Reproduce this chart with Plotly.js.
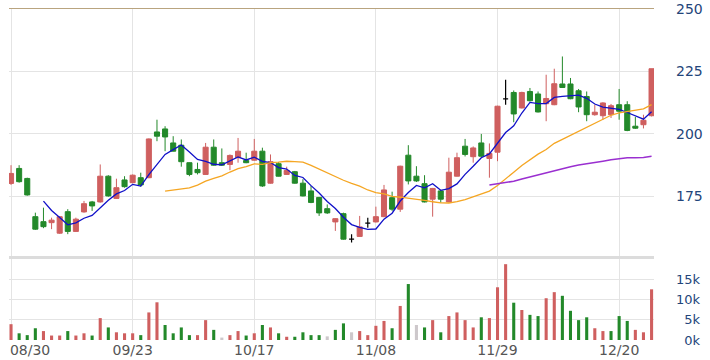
<!DOCTYPE html>
<html>
<head>
<meta charset="utf-8">
<script src="https://cdn.plot.ly/plotly-3.0.1.min.js"></script>
<style>html,body{margin:0;padding:0;background:#fff;}#chart{width:710px;height:360px;}</style>
</head>
<body>
<div id="chart"></div>
<script>
// ---- data ----
var openP = [180.2,186.2,182.2,166.9,164.9,164.5,160.3,168.9,161.0,168.8,
  172.8,172.8,183.1,174.2,181.6,180.5,182.5,182.5,200.8,202.0,
  196.4,195.5,188.5,185.8,183.8,194.7,188.5,187.8,190.5,189.4,
  189.5,193.1,180.3,188.1,183.8,184.9,180.3,177.2,174.6,170.1,
  164.8,168.1,157.9,159.0,164.3,164.8,166.9,174.5,169.9,191.5,
  183.1,180.1,173.9,177.2,172.8,183.1,195.1,190.9,196.4,190.2,
  192.7,214.0,216.6,210.4,217.0,216.0,212.1,211.7,220.0,220.0,
  217.3,215.0,207.7,207.3,207.7,211.7,211.7,203.1,203.7,207.3];
var highP = [187.5,187.5,182.5,168.5,170.5,166.5,167.1,169.9,166.5,173.2,
  173.2,187.8,183.5,182.1,183.1,183.8,184.5,198.2,205.7,203.1,
  199.1,197.8,188.6,188.5,196.4,197.8,194.2,191.8,198.4,192.5,
  198.0,194.5,191.8,188.8,186.9,185.2,181.9,179.2,174.8,171.8,
  166.3,168.5,159.9,167.2,166.5,170.9,179.6,176.9,187.3,195.5,
  187.1,183.5,178.4,177.6,190.5,192.5,198.0,195.0,200.0,196.2,
  211.3,221.7,217.4,216.9,218.4,217.0,223.7,226.1,231.0,222.4,
  218.0,217.0,211.7,212.7,212.0,218.0,213.1,206.8,207.7,226.1];
var lowP = [179.6,180.5,175.3,161.6,162.3,161.9,160.0,159.9,160.8,168.5,
  169.2,172.5,174.9,174.0,178.5,180.3,178.9,182.3,197.1,193.1,
  193.0,186.9,183.1,183.8,183.6,187.3,187.2,185.5,188.5,188.3,
  189.3,178.8,180.1,183.0,183.6,180.1,175.0,172.3,167.2,168.0,
  161.2,157.7,156.6,158.8,162.5,164.6,166.7,169.2,168.8,179.8,
  180.8,172.6,166.9,172.5,172.6,183.0,191.0,188.5,190.5,182.5,
  189.1,211.7,204.7,210.2,213.0,208.6,205.1,211.5,218.4,213.9,
  208.7,205.1,207.3,205.7,206.4,205.7,201.1,202.0,202.2,207.0];
var closeP = [184.2,180.9,175.6,161.9,162.9,165.5,166.9,161.0,165.9,172.1,
  171.2,183.1,175.2,178.5,178.9,183.5,179.6,198.0,199.1,198.8,
  193.1,188.9,183.8,184.5,194.7,187.5,187.5,191.4,193.1,188.5,
  193.1,179.2,188.9,183.1,185.4,180.3,175.2,172.6,168.4,168.4,
  166.1,157.9,157.9,162.8,164.3,166.9,177.6,169.9,187.1,181.2,
  181.2,172.8,178.2,173.9,184.7,190.5,191.8,194.4,191.1,192.2,
  211.1,214.0,208.0,216.6,213.3,208.8,214.2,220.1,218.6,214.1,
  210.8,207.7,208.7,212.4,211.3,209.1,201.4,202.3,205.5,226.1];
var volumeK = [3.9,1.65,1.2,2.9,2.2,1.1,1.1,2.2,1.1,1.65,
  1.1,5.4,3.1,1.9,1.65,1.65,1.2,6.8,9.3,3.7,
  1.65,3.1,1.2,1.2,4.9,2.5,0.6,1.2,2.2,1.1,
  1.65,3.7,3.1,1.65,0.8,0.8,1.9,1.2,1.2,0.9,
  2.5,4.1,1.9,2.2,1.2,3.5,4.7,2.9,8.4,13.8,
  3.7,3.1,4.9,1.9,5.9,6.8,4.9,3.1,5.6,5.4,
  13.0,18.7,9.2,7.4,6.2,5.9,10.3,11.8,10.9,7.2,
  4.9,5.6,2.9,2.2,2.2,5.9,4.7,2.5,1.9,12.5];
var dateLabels = ['08/30','09/23','10/17','11/08','11/29','12/20'];
var dateLabelIdx = [0,15,30,45,60,75];
var priceTicks = [150,175,200,225,250];
var volTicks = [0,5000,10000,15000,20000];
var volTickText = ['\u20070k','\u20075k','10k','15k',''];
var maPeriods = [5,20,60];

// ---- derived ----
var N = closeP.length;
var idx = []; for (var i=0;i<N;i++) idx.push(i);
function movingAvg(p){
  var out=[]; for (var i=0;i<N;i++){ if(i<p-1){out.push(null);continue;}
    var s=0; for(var j=i-p+1;j<=i;j++) s+=closeP[j]; out.push(s/p);} return out;
}
var RED='#cf5f5f', GREEN='#23892a', GRAY='#cdc8cb';
var volColors = closeP.map(function(c,i){
  var ref = i===0 ? openP[0] : closeP[i-1];
  return c>ref ? RED : (c<ref ? GREEN : GRAY);
});
var volume = volumeK.map(function(v){return v*1000;});
var main={x:[],o:[],h:[],l:[],c:[]}, doji={x:[],o:[],h:[],l:[],c:[]};
for (var i=0;i<N;i++){
  var t = openP[i]===closeP[i] ? doji : main;
  t.x.push(i); t.o.push(openP[i]); t.h.push(highP[i]); t.l.push(lowP[i]); t.c.push(closeP[i]);
}
var xr=[-0.25,79.3];
var labelPos = dateLabelIdx.slice(); labelPos[0] = 2.35;

var traces = [
  {type:'candlestick', x:main.x, open:main.o, high:main.h, low:main.l, close:main.c,
   xaxis:'x', yaxis:'y', hoverinfo:'skip', whiskerwidth:0,
   increasing:{line:{color:RED,width:1}, fillcolor:RED},
   decreasing:{line:{color:GREEN,width:1}, fillcolor:GREEN}},
  {type:'candlestick', x:doji.x, open:doji.o, high:doji.h, low:doji.l, close:doji.c,
   xaxis:'x', yaxis:'y', hoverinfo:'skip', whiskerwidth:0,
   increasing:{line:{color:'#000',width:1.2}, fillcolor:'#000'},
   decreasing:{line:{color:'#000',width:1.2}, fillcolor:'#000'}},
  {type:'scatter', mode:'lines', x:idx, y:movingAvg(maPeriods[0]), xaxis:'x', yaxis:'y',
   line:{color:'#1010c8', width:1.3}, hoverinfo:'skip'},
  {type:'scatter', mode:'lines', x:idx, y:movingAvg(maPeriods[1]), xaxis:'x', yaxis:'y',
   line:{color:'#f5a623', width:1.3}, hoverinfo:'skip'},
  {type:'scatter', mode:'lines', x:idx, y:movingAvg(maPeriods[2]), xaxis:'x', yaxis:'y',
   line:{color:'#9a2fd0', width:1.5}, hoverinfo:'skip'},
  {type:'bar', x:idx, y:volume, xaxis:'x2', yaxis:'y2', width:0.38,
   marker:{color:volColors, line:{width:0}}, hoverinfo:'skip'},
  {type:'scatter', mode:'none', x:idx, y:volume, xaxis:'x3', yaxis:'y2', hoverinfo:'skip'}
];

var gridC='#e4e4e4';
var layout = {
  width:710, height:360, margin:{l:9,r:56,t:9,b:20},
  paper_bgcolor:'#fff', plot_bgcolor:'#fff', showlegend:false,
  boxgap:0.2, boxgroupgap:0.22,
  font:{family:'DejaVu Sans', size:13, color:'#555'},
  xaxis:{domain:[0,1], range:xr, anchor:'y', side:'top', showline:true, linecolor:'#b9a47f', linewidth:1.5,
    tickvals:dateLabelIdx, showticklabels:false, ticks:'', showgrid:true, gridcolor:gridC, zeroline:false,
    rangeslider:{visible:false}, fixedrange:true},
  yaxis:{domain:[0.245,1], range:[150,250], anchor:'x', side:'right', tickvals:priceTicks,
    ticktext:priceTicks.map(function(v){return v===150?'':String(v);}),
    showgrid:true, gridcolor:gridC, zeroline:false, showline:false, ticks:'',
    ticklabelstandoff:21, tickfont:{family:'DejaVu Sans', size:14, color:'#23457a'}, fixedrange:true},
  xaxis2:{domain:[0,1], range:xr, anchor:'y2', side:'top', tickvals:dateLabelIdx, showticklabels:false, ticks:'',
    showgrid:true, gridcolor:gridC, zeroline:false, showline:true, linecolor:'#dcdcdc', linewidth:2.5, fixedrange:true},
  xaxis3:{range:xr, anchor:'y2', side:'bottom', overlaying:'x2', tickvals:labelPos, ticktext:dateLabels, showgrid:false,
    ticks:'', zeroline:false, showline:false, tickfont:{family:'DejaVu Sans', size:14, color:'#555'}, fixedrange:true},
  yaxis2:{domain:[0,0.245], range:[0,20000], anchor:'x2', side:'right', tickvals:volTicks, ticktext:volTickText,
    showgrid:true, gridcolor:gridC, zeroline:true, zerolinecolor:'rgba(0,0,0,0)', showline:false, ticks:'',
    ticklabelstandoff:21, tickfont:{family:'DejaVu Sans', size:13, color:'#23457a'}, fixedrange:true}
};
Plotly.newPlot('chart', traces, layout, {displayModeBar:false, staticPlot:true});
</script>
</body>
</html>
